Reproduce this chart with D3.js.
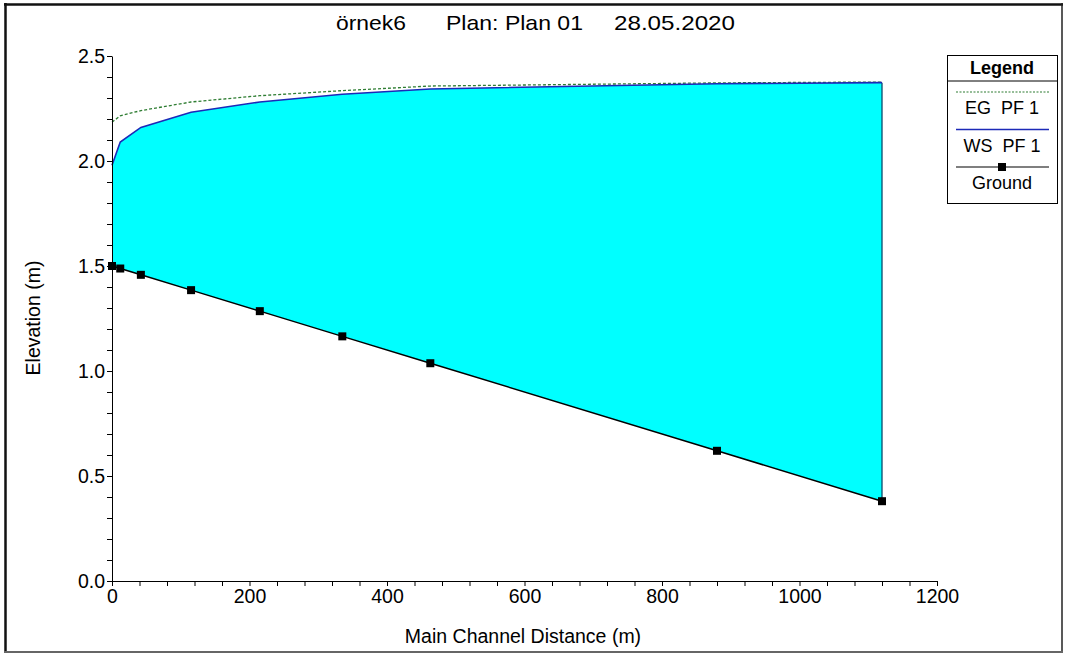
<!DOCTYPE html>
<html>
<head>
<meta charset="utf-8">
<script src="https://cdn.jsdelivr.net/npm/d3@7"></script>
<style>
  html, body { margin: 0; padding: 0; background: #fff; }
  svg { display: block; font-family: "Liberation Sans", Arial, sans-serif; }
  text { white-space: pre; }
</style>
</head>
<body>
<svg id="chart" width="1065" height="655"></svg>
<script>
// ---- data ----
const distances = [0, 12, 42, 115, 215, 335, 463, 880, 1120];
const groundElev = [1.50, 1.488, 1.458, 1.385, 1.285, 1.165, 1.037, 0.62, 0.38];
const wsElev = [1.98, 2.09, 2.16, 2.232, 2.281, 2.318, 2.343, 2.368, 2.373];
const egElev = [2.185, 2.215, 2.24, 2.281, 2.311, 2.335, 2.357, 2.372, 2.376];
const yMajorTicks = [0.0, 0.5, 1.0, 1.5, 2.0, 2.5];
const xMajorTicks = [0, 200, 400, 600, 800, 1000, 1200];
const titleParts = ["örnek6", "Plan: Plan 01", "28.05.2020"];
const legendLabels = ["EG  PF 1", "WS  PF 1", "Ground"];

const svg = d3.select("#chart");

// outer frame
svg.append("line").attr("x1", 4).attr("x2", 1063).attr("y1", 4.5).attr("y2", 4.5).attr("stroke", "#111").attr("stroke-width", 2.5);
svg.append("line").attr("x1", 5.5).attr("x2", 5.5).attr("y1", 3).attr("y2", 653).attr("stroke", "#111").attr("stroke-width", 2.5);
svg.append("line").attr("x1", 1062).attr("x2", 1062).attr("y1", 3).attr("y2", 653).attr("stroke", "#222").attr("stroke-width", 1.5);
svg.append("line").attr("x1", 4).attr("x2", 1063).attr("y1", 652).attr("y2", 652).attr("stroke", "#666").attr("stroke-width", 2);

const x = d3.scaleLinear().domain([0, 1200]).range([112, 937]);
const y = d3.scaleLinear().domain([0, 2.5]).range([581, 56]);

const idx = d3.range(distances.length);

// water area
const area = d3.area()
  .x(i => x(distances[i]))
  .y0(i => y(groundElev[i]))
  .y1(i => y(wsElev[i]));
svg.append("path").datum(idx).attr("d", area).attr("fill", "#00ffff").attr("stroke", "none");

// right edge of water polygon
const last = distances.length - 1;
svg.append("line")
  .attr("x1", x(distances[last])).attr("x2", x(distances[last]))
  .attr("y1", y(groundElev[last])).attr("y2", y(wsElev[last]))
  .attr("stroke", "#0b4a6a").attr("stroke-width", 1.3);

const line = arr => d3.line().x(i => x(distances[i])).y(i => y(arr[i]));

// EG
svg.append("path").datum(idx).attr("d", line(egElev)).attr("fill", "none")
  .attr("stroke", "#2e7d32").attr("stroke-width", 1.3).attr("stroke-dasharray", "3,2");
// WS
svg.append("path").datum(idx).attr("d", line(wsElev)).attr("fill", "none")
  .attr("stroke", "#1c2ab8").attr("stroke-width", 1.6);
// Ground
svg.append("path").datum(idx).attr("d", line(groundElev)).attr("fill", "none")
  .attr("stroke", "#000").attr("stroke-width", 1.5);
svg.selectAll("rect.gm").data(idx).enter().append("rect").attr("class", "gm")
  .attr("x", i => x(distances[i]) - 4).attr("y", i => y(groundElev[i]) - 4)
  .attr("width", 8).attr("height", 8).attr("fill", "#000");

// axes
const yTicks = d3.range(0, 26).map(d => d / 10);
const yAxis = d3.axisLeft(y).tickValues(yTicks).tickSize(5).tickSizeOuter(0).tickPadding(2)
  .tickFormat(d => yMajorTicks.some(m => Math.abs(m - d) < 1e-9) ? d3.format(".1f")(d) : "");
const gy = svg.append("g").attr("transform", "translate(112,0)").call(yAxis);
gy.selectAll("text").attr("font-size", 19.5).attr("fill", "#000").attr("font-family", "Liberation Sans, Arial, sans-serif");
gy.selectAll("line, path").attr("stroke", "#000");

const xTicks = d3.range(0, 1201, 40);
const xAxis = d3.axisBottom(x).tickValues(xTicks).tickSize(5).tickSizeOuter(0).tickPadding(3)
  .tickFormat(d => xMajorTicks.includes(d) ? String(d) : "");
const gx = svg.append("g").attr("transform", "translate(0,581)").call(xAxis);
gx.selectAll("text").attr("font-size", 19.5).attr("fill", "#000").attr("font-family", "Liberation Sans, Arial, sans-serif");
gx.selectAll("line, path").attr("stroke", "#000");

// axis titles
svg.append("text").attr("x", 523).attr("y", 643).attr("text-anchor", "middle")
  .attr("font-size", 19.5).text("Main Channel Distance (m)");
svg.append("text").attr("transform", "translate(40,318) rotate(-90)").attr("text-anchor", "middle")
  .attr("font-size", 19.5).text("Elevation (m)");

// title
const tx = [336, 446, 614];
const tw = [70, 137, 121];
titleParts.forEach((t, i) => {
  svg.append("text").attr("x", tx[i]).attr("y", 30).attr("font-size", 21)
    .attr("textLength", tw[i]).attr("lengthAdjust", "spacingAndGlyphs").text(t);
});

// legend
const lg = svg.append("g");
lg.append("rect").attr("x", 947.5).attr("y", 55.5).attr("width", 110).attr("height", 148)
  .attr("fill", "#fff").attr("stroke", "#000").attr("stroke-width", 1);
lg.append("line").attr("x1", 947.5).attr("x2", 1057.5).attr("y1", 81).attr("y2", 81).attr("stroke", "#000");
lg.append("text").attr("x", 1002).attr("y", 74).attr("text-anchor", "middle")
  .attr("font-size", 18).attr("font-weight", "bold").text("Legend");
lg.append("line").attr("x1", 956).attr("x2", 1049).attr("y1", 92).attr("y2", 92)
  .attr("stroke", "#2e7d32").attr("stroke-width", 1.2).attr("stroke-dasharray", "2,1.5");
lg.append("text").attr("x", 1002).attr("y", 114).attr("text-anchor", "middle").attr("font-size", 18).text(legendLabels[0]);
lg.append("line").attr("x1", 956).attr("x2", 1049).attr("y1", 129.5).attr("y2", 129.5)
  .attr("stroke", "#1c2ab8").attr("stroke-width", 1.4);
lg.append("text").attr("x", 1002).attr("y", 152).attr("text-anchor", "middle").attr("font-size", 18).text(legendLabels[1]);
lg.append("line").attr("x1", 956).attr("x2", 1049).attr("y1", 167).attr("y2", 167)
  .attr("stroke", "#000").attr("stroke-width", 1.2);
lg.append("rect").attr("x", 998).attr("y", 163).attr("width", 8).attr("height", 8).attr("fill", "#000");
lg.append("text").attr("x", 1002).attr("y", 189).attr("text-anchor", "middle").attr("font-size", 18).text(legendLabels[2]);
</script>
</body>
</html>
